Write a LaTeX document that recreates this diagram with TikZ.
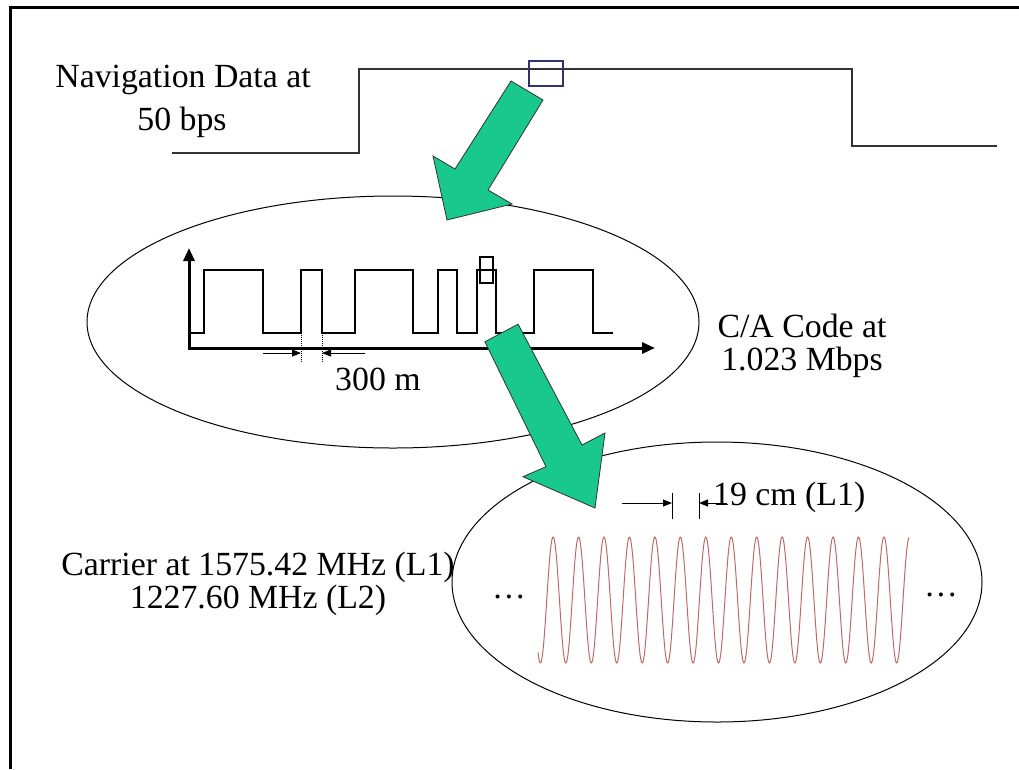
\documentclass[tikz,border=0pt]{standalone}
\usepackage{fontspec}
\setmainfont{Liberation Serif}
\usetikzlibrary{arrows.meta}
\definecolor{arrowgreen}{RGB}{25,200,140}
\definecolor{navbox}{RGB}{50,50,110}
\definecolor{carriercol}{RGB}{190,105,105}
\definecolor{sig}{RGB}{50,50,50}
\begin{document}
\begin{tikzpicture}[x=1pt,y=-1pt,
  lbl/.style={font=\fontsize{33.8}{40}\selectfont, inner sep=0pt},
  sigline/.style={draw=sig, line width=1.6pt},
  sqwave/.style={draw=black, line width=1.5pt},
  axes/.style={draw=black, line width=3pt, line join=miter,
    {Triangle[length=13pt,width=11pt]}-{Triangle[length=13pt,width=11pt]}},
  bigarrow/.style={fill=arrowgreen, draw=black!80, line width=0.8pt, line join=miter},
  ring/.style={draw=black, line width=1pt},
  dimarrow/.style={draw=black, line width=1pt, -{Triangle[length=9pt,width=7pt]}},
  guide/.style={draw=black, line width=1pt, densely dotted},
  tick/.style={draw=black, line width=1pt},
  win/.style={draw, inner sep=0pt, line width=1.6pt},
]
\useasboundingbox (0,0) rectangle (1019,769);
% frame
\coordinate (fbl) at (10,769);
\coordinate (ftl) at (10,7.5);
\coordinate (ftr) at (1019,7.5);
\draw[line width=3pt, line join=miter] (fbl) -- (ftl) -- (ftr);

% navigation data
\node[lbl, anchor=base] (navA) at (183,87) {Navigation Data at};
\node[lbl, anchor=base] (navB) at (182,130) {50 bps};
\coordinate (n0) at (172,153);
\coordinate (n1) at (359,153);
\coordinate (n2) at (359,69);
\coordinate (n3) at (852,69);
\coordinate (n4) at (852,146);
\coordinate (n5) at (997,146);
\draw[sigline] (n0) -- (n1) -- (n2) -- (n3) -- (n4) -- (n5);
\node[win, draw=navbox, minimum width=34pt, minimum height=25pt] (navwin) at (546,73.5) {};

% C/A code ellipse
\draw[ring] (393,322) ellipse [x radius=306pt, y radius=126pt];
\coordinate (ytop) at (189,248);
\coordinate (org) at (189,348);
\coordinate (xend) at (655,348);
\draw[axes] (ytop) -- (org) -- (xend);
\draw[sqwave] (190,333) -- (204,333) -- (204,270) -- (263,270) -- (263,333)
  -- (301,333) -- (301,270) -- (322,270) -- (322,333) -- (355,333) -- (355,270)
  -- (413,270) -- (413,333) -- (438,333) -- (438,270) -- (457,270) -- (457,333)
  -- (477,333) -- (477,270) -- (496,270) -- (496,333) -- (534,333) -- (534,270)
  -- (593,270) -- (593,333) -- (613,333);
\node[win, draw=black, minimum width=13pt, minimum height=26pt] (chipwin) at (486.5,270) {};
\coordinate (g1t) at (301,335);
\coordinate (g1b) at (301,363);
\coordinate (g2t) at (322,335);
\coordinate (g2b) at (322,363);
\draw[guide] (g1t) -- (g1b);
\draw[guide] (g2t) -- (g2b);
\coordinate (d1s) at (263,353);
\coordinate (d1e) at (301,353);
\coordinate (d2s) at (365,353);
\coordinate (d2e) at (322,353);
\draw[dimarrow] (d1s) -- (d1e);
\draw[dimarrow] (d2s) -- (d2e);
\node[lbl, anchor=base west] (chiplen) at (335,390) {300 m};
\node[lbl, anchor=base] (caA) at (802,337) {C/A Code at};
\node[lbl, anchor=base] (caB) at (802,370) {1.023 Mbps};

% carrier ellipse
\draw[ring] (717,582) ellipse [x radius=265pt, y radius=140pt];
\draw[carriercol, line width=1pt] plot[domain=538:909, samples=700]
  (\x, {600 - 63*cos(14.1454*(\x-604))});
\node[lbl, anchor=base] (dotsL) at (509,598) {…};
\node[lbl, anchor=base] (dotsR) at (941,596) {…};
\coordinate (t1t) at (672,493);
\coordinate (t1b) at (672,519);
\coordinate (t2t) at (699,493);
\coordinate (t2b) at (699,519);
\draw[tick] (t1t) -- (t1b);
\draw[tick] (t2t) -- (t2b);
\coordinate (w1s) at (622,503);
\coordinate (w1e) at (672,503);
\coordinate (w2s) at (727,503);
\coordinate (w2e) at (699,503);
\draw[dimarrow] (w1s) -- (w1e);
\draw[dimarrow] (w2s) -- (w2e);
\node[lbl, anchor=base west] (wavelen) at (713,505) {19 cm (L1)};
\node[lbl, anchor=base] (carA) at (258,575) {Carrier at 1575.42 MHz (L1)};
\node[lbl, anchor=base] (carB) at (258,608) {1227.60 MHz (L2)};

% green arrows
\draw[bigarrow] (511,81) -- (543,100) -- (488,190) -- (512,204) -- (447,220)
  -- (433,156) -- (455,169) -- cycle;
\draw[bigarrow] (484.9,341.8) -- (518.1,324.2) -- (582,445) -- (605,433)
  -- (595,508) -- (523,476.7) -- (546,466.7) -- cycle;
\end{tikzpicture}
\end{document}
